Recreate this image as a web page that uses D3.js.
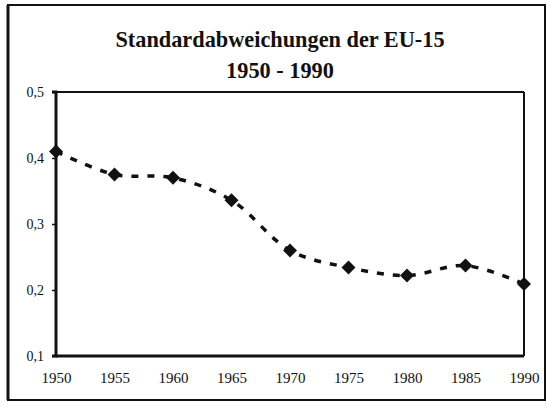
<!DOCTYPE html>
<html><head><meta charset="utf-8">
<script src="https://cdn.jsdelivr.net/npm/d3@7"></script>
<style>body{margin:0;background:#fff}svg{display:block}</style>
</head><body>
<script>
const years = [1950,1955,1960,1965,1970,1975,1980,1985,1990];
const values = [0.41,0.375,0.370,0.336,0.260,0.234,0.222,0.237,0.209];
const yTicks = [0.1,0.2,0.3,0.4,0.5];
const titleLines = ["Standardabweichungen der EU-15","1950 - 1990"];

const W=548,H=411;
const FONT="Liberation Serif, Times New Roman, serif";
const svg=d3.select("body").append("svg").attr("width",W).attr("height",H);
svg.append("rect").attr("width",W).attr("height",H).attr("fill","#fff");
// outer border
svg.append("rect").attr("x",8).attr("y",5).attr("width",537).attr("height",395)
  .attr("fill","none").attr("stroke","#111").attr("stroke-width",2);
svg.append("line").attr("x1",8).attr("x2",8).attr("y1",5).attr("y2",400).attr("stroke","#111").attr("stroke-width",3);

const m={l:56,r:524,t:92,b:356};
const x=d3.scaleLinear().domain([1950,1990]).range([m.l,m.r]);
const y=d3.scaleLinear().domain([0.1,0.5]).range([m.b,m.t]);

titleLines.forEach((t,i)=>{
  svg.append("text").attr("x",280).attr("y",47+i*31).attr("text-anchor","middle")
    .attr("font-family",FONT).attr("font-weight","bold")
    .attr("font-size",22.3).attr("fill","#111").text(t);
});

// plot frame
svg.append("line").attr("x1",m.l).attr("x2",m.r).attr("y1",m.t).attr("y2",m.t).attr("stroke","#111").attr("stroke-width",2);
svg.append("line").attr("x1",m.r).attr("x2",m.r).attr("y1",m.t).attr("y2",m.b).attr("stroke","#111").attr("stroke-width",2);

const yAxis=svg.append("g").attr("transform",`translate(${m.l},0)`)
  .call(d3.axisLeft(y).tickValues(yTicks).tickSize(4).tickPadding(8).tickFormat(d=>d3.format(".1f")(d).replace(".",",")));
const xAxis=svg.append("g").attr("transform",`translate(0,${m.b})`)
  .call(d3.axisBottom(x).tickValues(years).tickSize(0).tickPadding(16).tickFormat(d3.format("d")));
[yAxis,xAxis].forEach(g=>{
  g.attr("font-size",null).attr("font-family",null);
  g.select(".domain").attr("stroke","#111").attr("stroke-width",3);
  g.selectAll(".tick line").attr("stroke","#111").attr("stroke-width",1.5);
  g.selectAll("text").style("font-family",FONT).style("font-size","15px").attr("fill","#111");
});
yAxis.selectAll("text").style("font-size","14px");
yAxis.select(".domain").attr("d",`M-4,${m.t}H0V${m.b}H-4`);
xAxis.select(".domain").attr("d",`M${m.l},0H${m.r}`);
xAxis.selectAll(".tick line").remove();

const data=years.map((yr,i)=>({yr,v:values[i]}));
svg.append("path").datum(data)
  .attr("d",d3.line().x(d=>x(d.yr)).y(d=>y(d.v)).curve(d3.curveCatmullRom.alpha(0.5)))
  .attr("fill","none").attr("stroke","#111").attr("stroke-width",3.5).attr("stroke-dasharray","7,9");
svg.selectAll(".pt").data(data).enter().append("path")
  .attr("transform",d=>`translate(${x(d.yr)},${y(d.v)})`)
  .attr("d","M0,-7L7,0L0,7L-7,0Z").attr("fill","#111");
</script>
</body></html>
